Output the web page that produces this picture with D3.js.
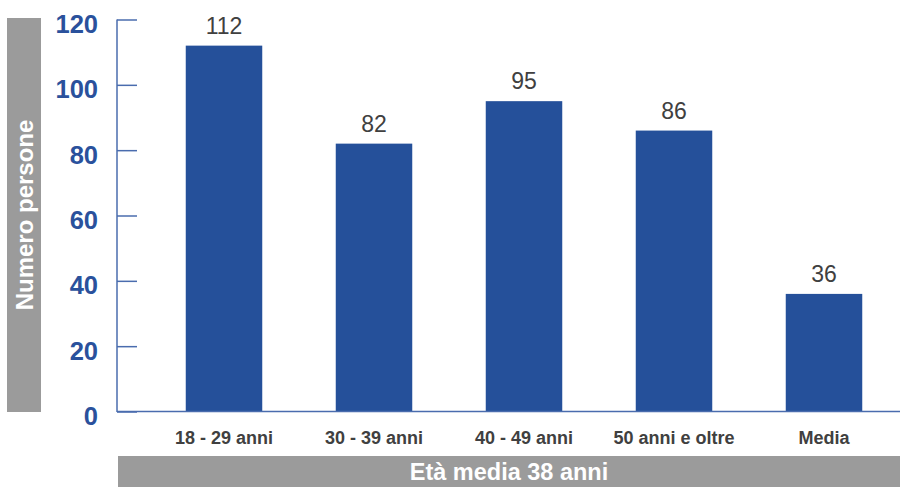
<!DOCTYPE html>
<html><head><meta charset="utf-8">
<script src="https://cdn.jsdelivr.net/npm/d3@7"></script>
<style>body{margin:0;background:#fff}svg{display:block}</style>
</head><body>
<script>
const categories = ["18 - 29 anni","30 - 39 anni","40 - 49 anni","50 anni e oltre","Media"];
const values = [112, 82, 95, 86, 36];
const yTicks = [0,20,40,60,80,100,120];
const yTitle = "Numero persone";
const xTitle = "Età media 38 anni";

const W = 901, H = 487;
const svg = d3.select("body").append("svg").attr("width", W).attr("height", H);
const font = "Arial, 'Liberation Sans', sans-serif";
const blue = "#25509a";

const y = d3.scaleLinear().domain([0,120]).range([411.5, 19.5]);
const x = d3.scaleBand().domain(categories).range([149, 899]).paddingInner(0.49).paddingOuter(0.245);

// y title box
svg.append("rect").attr("x",7).attr("y",18).attr("width",34).attr("height",394).attr("fill","#9b9b9b");
svg.append("text").attr("transform","translate(32.5,215) rotate(-90)").attr("text-anchor","middle")
  .attr("font-family",font).attr("font-weight","bold").attr("font-size",24).attr("fill","#fff").text(yTitle);

// x title box
svg.append("rect").attr("x",118).attr("y",456).attr("width",782).attr("height",31).attr("fill","#9b9b9b");
svg.append("text").attr("x",509).attr("y",480).attr("text-anchor","middle")
  .attr("font-family",font).attr("font-weight","bold").attr("font-size",23.5).attr("fill","#fff").text(xTitle);

// bars
svg.selectAll("rect.bar").data(values).enter().append("rect").attr("class","bar")
  .attr("x",(d,i)=>x(categories[i])).attr("width",x.bandwidth())
  .attr("y",d=>y(d)).attr("height",d=>y(0)-y(d)).attr("fill",blue);

// value labels
svg.selectAll("text.val").data(values).enter().append("text").attr("class","val")
  .attr("x",(d,i)=>x(categories[i])+x.bandwidth()/2).attr("y",d=>y(d)-12)
  .attr("text-anchor","middle").attr("font-family",font).attr("font-size",23).attr("fill","#404040")
  .text(d=>d);

// y axis
const yAxis = d3.axisRight(y).tickValues(yTicks).tickSize(20).tickFormat("");
const gy = svg.append("g").attr("transform","translate(117,0)").call(yAxis);
gy.select(".domain").remove();
gy.selectAll(".tick line").attr("stroke","#4a6cae").attr("stroke-width",1.5);
svg.append("line").attr("x1",117).attr("x2",117).attr("y1",y(120)).attr("y2",y(0)+0.5).attr("stroke","#4a6cae").attr("stroke-width",1.5);
svg.append("line").attr("x1",117).attr("x2",900).attr("y1",y(0)).attr("y2",y(0)).attr("stroke","#4a6cae").attr("stroke-width",1.5);

svg.selectAll("text.yt").data(yTicks).enter().append("text").attr("class","yt")
  .attr("x",98).attr("y",d=>y(d)+13.5).attr("text-anchor","end")
  .attr("font-family",font).attr("font-weight","bold").attr("font-size",25.5).attr("fill","#2a519c")
  .text(d=>d);

// x category labels
const xAxis = d3.axisBottom(x).tickSize(0);
const gx = svg.append("g").attr("transform","translate(0,"+y(0)+")").call(xAxis);
gx.select(".domain").remove();
gx.selectAll(".tick text").attr("dy",0).attr("y",32.5)
  .attr("font-family",font).attr("font-weight","bold").attr("font-size",18).attr("fill","#404040");
</script>
</body></html>
